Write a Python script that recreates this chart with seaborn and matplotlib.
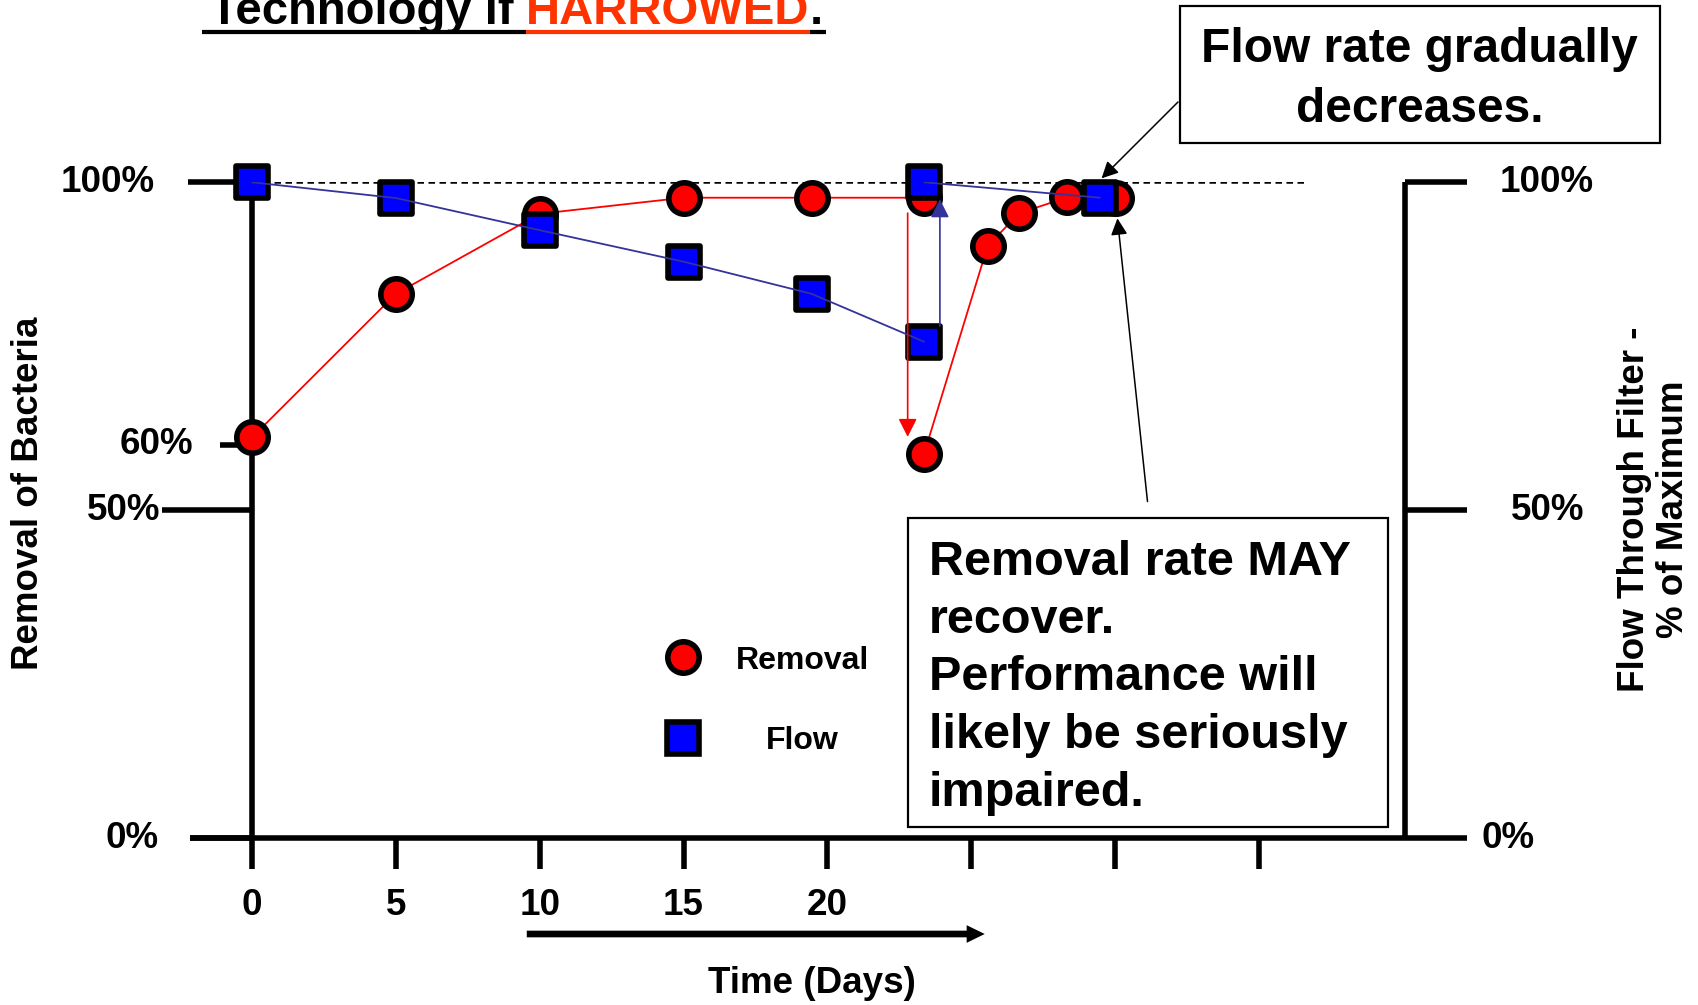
import numpy as np
import pandas as pd
import matplotlib
matplotlib.use("Agg")
import matplotlib.pyplot as plt
import seaborn as sns
from matplotlib.lines import Line2D
from matplotlib.patches import Rectangle, FancyArrowPatch

# ---------------- data ----------------
removal_days = [0, 5, 10, 15, 19.45, 23.36, 23.36, 25.57, 26.67, 28.34, 30.02]
removal_pct = [61.1, 83.0, 95.2, 97.65, 97.65, 97.65, 58.6, 90.3, 95.3, 97.7, 97.65]
removal_run = [1, 1, 1, 1, 1, 1, 2, 2, 2, 2, 2]

flow_days = [0, 5, 10, 15, 19.45, 23.36, 23.36, 29.47]
flow_pct = [100, 97.6, 92.7, 87.9, 83.0, 75.7, 100, 97.65]
flow_run = [1, 1, 1, 1, 1, 1, 2, 2]

x_ticks = [0, 5, 10, 15, 20, 25, 30, 35]
x_tick_labels = ["0", "5", "10", "15", "20", "", "", ""]
left_ticks = [100, 60, 50, 0]
left_tick_labels = ["100%", "60%", "50%", "0%"]
right_ticks = [100, 50, 0]
right_tick_labels = ["100%", "50%", "0%"]

max_line_level = 100
max_line_days = [0, 36.66]
removal_drop = [22.79, 95.3, 61.2]     # day, from %, to %
flow_restore = [23.91, 78.1, 97.4]     # day, from %, to %

title_parts = ["Technology if ", "HARROWED", "."]
note_flow = "Flow rate gradually\ndecreases."
note_removal = ("Removal rate MAY\nrecover.\nPerformance will\n"
                "likely be seriously\nimpaired.")

# ---------------- styling ----------------
W, H, DPI = 1698, 1005, 100
PX = 72.0 / DPI  # points per pixel

sns.set_theme(style="white")
plt.rcParams["font.family"] = ["Liberation Sans", "DejaVu Sans"]
plt.rcParams["font.weight"] = "bold"
plt.rcParams["text.color"] = "black"
plt.rcParams["axes.labelcolor"] = "black"
plt.rcParams["xtick.color"] = "black"
plt.rcParams["ytick.color"] = "black"

RED = "#FF0000"
BLUE = "#0000FF"
NAVY = "#333399"
TITLE_RED = "#FF3300"

fig = plt.figure(figsize=(W / DPI, H / DPI), dpi=DPI)
fig.patch.set_facecolor("white")

ax_left, ax_right_px = 189.5, 1404.5
ax_top, ax_bot = 182.3, 838.3
ax = fig.add_axes([ax_left / W, 1 - ax_bot / H, (ax_right_px - ax_left) / W,
                   (ax_bot - ax_top) / H])
ax.set_facecolor("white")
px_per_day = 28.77
xmin = -(252 - ax_left) / px_per_day
xmax = (ax_right_px - 252) / px_per_day
ax.set_xlim(xmin, xmax)
ax.set_ylim(0, 100)

SPINE_LW = 4.0
ax.spines["top"].set_visible(False)
ax.spines["left"].set_position(("data", 0))
ax.spines["left"].set_bounds(0, 100)
ax.spines["right"].set_bounds(0, 100)
for s in ["left", "right", "bottom"]:
    ax.spines[s].set_linewidth(SPINE_LW)
    ax.spines[s].set_color("black")
    ax.spines[s].set_capstyle("butt")

TICK_FS = 26.5

# x ticks (real ticks)
ax.set_xticks(x_ticks, x_tick_labels)
ax.tick_params(axis="x", direction="out", length=31 * PX, width=SPINE_LW,
               color="black", labelcolor="black", pad=19 * PX,
               labelsize=TICK_FS, bottom=True)
for lab in ax.get_xticklabels():
    lab.set_fontweight("bold")
ax.set_yticks([])

# y ticks: drawn per tick because they have different lengths
left_len_px = {100: 64, 60: 32, 50: 90, 0: 62}
left_lab_off_px = {100: 97, 60: 59, 50: 92, 0: 93}
for v, lab in zip(left_ticks, left_tick_labels):
    L = left_len_px[v] / px_per_day
    ax.plot([-L, 0], [v, v], color="black", lw=SPINE_LW, clip_on=False,
            solid_capstyle="butt", zorder=1)
    ax.annotate(lab, xy=(0, v), xytext=(-left_lab_off_px[v] * PX, 0),
                textcoords="offset points", ha="right", va="center",
                fontsize=TICK_FS, fontweight="bold", color="black",
                annotation_clip=False)

right_len_px = 63
right_lab_off_px = {100: 95.5, 50: 106, 0: 77}
for v, lab in zip(right_ticks, right_tick_labels):
    L = right_len_px / px_per_day
    ax.plot([xmax, xmax + L], [v, v], color="black", lw=SPINE_LW, clip_on=False,
            solid_capstyle="butt", zorder=1)
    ax.annotate(lab, xy=(xmax, v), xytext=(right_lab_off_px[v] * PX, 0),
                textcoords="offset points", ha="left", va="center",
                fontsize=TICK_FS, fontweight="bold", color="black",
                annotation_clip=False)

# 100% reference line
ax.hlines(max_line_level, max_line_days[0], max_line_days[1], colors="black",
          linestyles=(0, (2.6, 1.8)), lw=1.8, zorder=1.5)

# ---------------- series ----------------
df_rem = pd.DataFrame({"day": removal_days, "pct": removal_pct, "run": removal_run})
df_flow = pd.DataFrame({"day": flow_days, "pct": flow_pct, "run": flow_run})

MS = 31.4 * PX       # marker size (pt)
MEW = 5.6 * PX       # marker edge width (pt)

sns.lineplot(data=df_rem, x="day", y="pct", units="run", estimator=None,
             sort=False, color=RED, lw=1.3, ax=ax, zorder=2, legend=False)
sns.scatterplot(data=df_rem, x="day", y="pct", marker="o", s=MS ** 2,
                color=RED, edgecolor="black", linewidth=MEW, ax=ax, zorder=3,
                clip_on=False, legend=False)
sns.scatterplot(data=df_flow, x="day", y="pct", marker="s", s=MS ** 2,
                color=BLUE, edgecolor="black", linewidth=MEW, ax=ax, zorder=4,
                clip_on=False, legend=False)
sns.lineplot(data=df_flow, x="day", y="pct", units="run", estimator=None,
             sort=False, color=NAVY, lw=1.3, ax=ax, zorder=5, legend=False)
ax.set_xlabel("")
ax.set_ylabel("")

# drop / restore arrows
ax.annotate("", xy=(removal_drop[0], removal_drop[2]),
            xytext=(removal_drop[0], removal_drop[1]),
            arrowprops=dict(arrowstyle="-|>,head_length=0.55,head_width=0.28",
                            color=RED, lw=1.2, shrinkA=0, shrinkB=0,
                            mutation_scale=20), zorder=6)
ax.annotate("", xy=(flow_restore[0], flow_restore[2]),
            xytext=(flow_restore[0], flow_restore[1]),
            arrowprops=dict(arrowstyle="-|>,head_length=0.55,head_width=0.28",
                            color=NAVY, lw=1.2, shrinkA=0, shrinkB=0,
                            mutation_scale=20), zorder=6)

# ---------------- legend (two single-entry legends) ----------------
def handle(marker, fc):
    return Line2D([], [], ls="", marker=marker, markersize=MS, markerfacecolor=fc,
                  markeredgecolor="black", markeredgewidth=MEW)

leg_fs = 23
leg1 = ax.legend([handle("o", RED)], ["Removal"], loc="center left",
                 bbox_to_anchor=(664.5 / W, 1 - 660.6 / H),
                 bbox_transform=fig.transFigure, frameon=False, borderpad=0,
                 borderaxespad=0, handlelength=1.17, handletextpad=1.08,
                 prop={"size": leg_fs, "weight": "bold"}, labelcolor="black")
ax.add_artist(leg1)
leg2 = ax.legend([handle("s", BLUE)], ["Flow"], loc="center left",
                 bbox_to_anchor=(664.5 / W, 1 - 740.7 / H),
                 bbox_transform=fig.transFigure, frameon=False, borderpad=0,
                 borderaxespad=0, handlelength=1.17, handletextpad=2.0,
                 prop={"size": leg_fs, "weight": "bold"}, labelcolor="black")

# ---------------- axis titles ----------------
fig.text(29 / W, 1 - 493 / H, "Removal of Bacteria", rotation=90, ha="center",
         va="center", fontsize=26.5, fontweight="bold", color="black")
fig.text(1654 / W, 1 - 509 / H, "Flow Through Filter -\n% of Maximum", rotation=90,
         ha="center", va="center", multialignment="center", fontsize=26.5,
         fontweight="bold", linespacing=1.15, color="black")
fig.text(812 / W, 1 - 983 / H, "Time (Days)", ha="center", va="center",
         fontsize=26.5, fontweight="bold", color="black")

def fpx(x, y):
    """figure pixel coordinates measured from the top-left corner"""
    return (x, H - y)

time_arrow = FancyArrowPatch(fpx(524, 934), fpx(987.5, 934),
                             transform=None,
                             arrowstyle="simple,head_length=1.3,head_width=1.27,tail_width=0.48",
                             mutation_scale=10, color="black", lw=0)
fig.add_artist(time_arrow)

# ---------------- title (partially clipped at top, as in the original) ----------------
title_fs = 34
t1 = fig.text(209.5 / W, 1 - 24 / H, title_parts[0], fontsize=title_fs,
              fontweight="bold", color="black", va="baseline", ha="left")
t2 = ax.annotate(title_parts[1], xy=(1, 0), xycoords=t1, fontsize=title_fs,
                 fontweight="bold", color=TITLE_RED, va="bottom", ha="left",
                 annotation_clip=False)
t3 = ax.annotate(title_parts[2], xy=(1, 0), xycoords=t2, fontsize=title_fs,
                 fontweight="bold", color="black", va="bottom", ha="left",
                 annotation_clip=False)

fig.canvas.draw()
r = fig.canvas.get_renderer()
b1, b2, b3 = (t.get_window_extent(r) for t in (t1, t2, t3))
uy = 31.7
ulw = 4.2 * PX
fig.add_artist(Line2D([202, b2.x0], [H - uy, H - uy], transform=None,
                      color="black", lw=ulw, solid_capstyle="butt"))
fig.add_artist(Line2D([b2.x0, b2.x1], [H - uy, H - uy], transform=None,
                      color=TITLE_RED, lw=ulw, solid_capstyle="butt"))
fig.add_artist(Line2D([b2.x1, b3.x1 + 3], [H - uy, H - uy], transform=None,
                      color="black", lw=ulw, solid_capstyle="butt"))

# ---------------- note boxes ----------------
def box(x0, y0, x1, y1):
    fig.add_artist(Rectangle(fpx(x0, y1), x1 - x0, y1 - y0, transform=None,
                             fill=True, facecolor="white", edgecolor="black",
                             lw=2.2 * PX, zorder=10))

box(1179.5, 6, 1659.5, 143)
fig.text(1419.5 / W, 1 - 79.5 / H, note_flow, ha="center", va="center",
         multialignment="center", fontsize=34.5, fontweight="bold",
         linespacing=1.4, zorder=11, color="black")
box(907.5, 517.5, 1388, 827)
fig.text(929 / W, 1 - 678 / H, note_removal, ha="left", va="center",
         multialignment="left", fontsize=35, fontweight="bold",
         linespacing=1.37, zorder=11, color="black")

# annotation arrows from the boxes to the markers
arrow_kw = dict(arrowstyle="-|>,head_length=0.5,head_width=0.25", color="black",
                lw=1.1, shrinkA=0, shrinkB=0, mutation_scale=20)
ax.annotate("", xy=(29.53, 100.6), xycoords="data",
            xytext=fpx(1178, 102), textcoords="figure pixels",
            arrowprops=arrow_kw, zorder=7, annotation_clip=False)
ax.annotate("", xy=(30.08, 94.5), xycoords="data",
            xytext=fpx(1147.5, 501.5), textcoords="figure pixels",
            arrowprops=arrow_kw, zorder=7, annotation_clip=False)

fig.savefig("out.png", dpi=DPI, facecolor="white")
